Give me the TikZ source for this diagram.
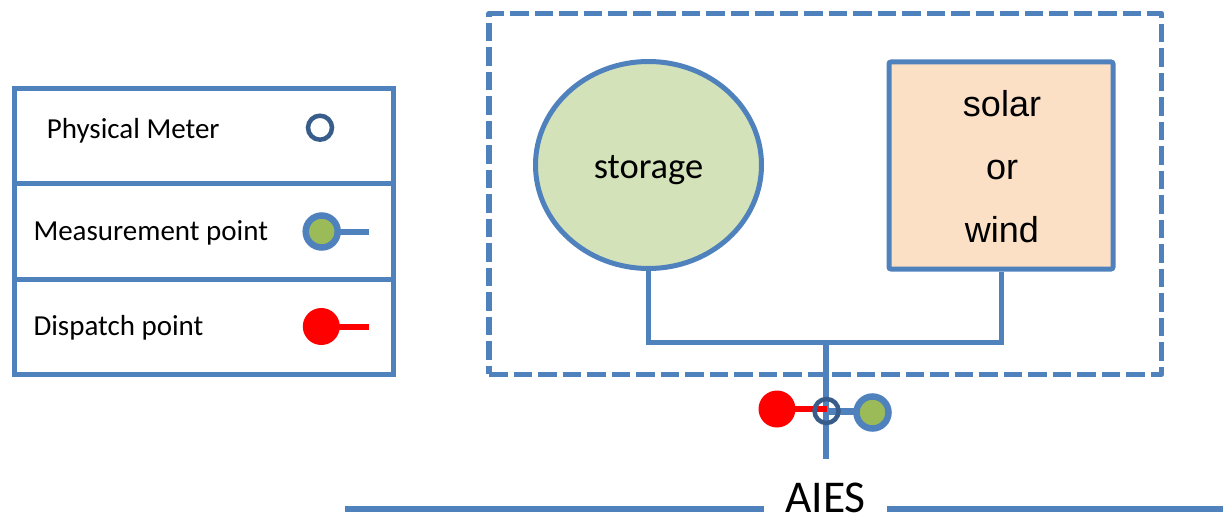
\documentclass[tikz,border=0pt]{standalone}
\usepackage{fontspec}
\newfontfamily\calfont{Carlito}
\newfontfamily\arifont{Liberation Sans}
\usetikzlibrary{shapes.geometric,backgrounds,calc}

\definecolor{aiesblue}{HTML}{4F81BD}
\definecolor{meterblue}{HTML}{385D8A}
\definecolor{storagegreen}{HTML}{D4E2B9}
\definecolor{solarorange}{HTML}{FBE0C6}
\definecolor{measgreen}{HTML}{9BBB59}

\tikzset{
  blueline/.style={draw=aiesblue, line width=5pt},
  redline/.style={draw=red, line width=5.5pt},
  linkline/.style={draw=aiesblue, line width=7pt},
  legendtext/.style={anchor=base west, inner sep=0pt, font=\calfont\fontsize{29}{34}\selectfont},
  meterring/.style={circle, draw=meterblue, line width=4.5pt, minimum size=24pt, inner sep=0pt},
  measdot/.style={circle, draw=aiesblue, fill=measgreen, line width=6.5pt, minimum size=32pt, inner sep=0pt},
  dispdot/.style={circle, fill=red, minimum size=37pt, inner sep=0pt},
}

\begin{document}
\begin{tikzpicture}[x=1pt, y=-1pt]
\useasboundingbox (0,0) rectangle (1223,519);

% ---- legend ----
\node[draw=aiesblue, line width=5pt, minimum width=379pt, minimum height=286pt, inner sep=0pt] (legend) at (203.5,231) {};
\draw[blueline] (legend.west |- 0,183.5) -- (legend.east |- 0,183.5);
\draw[blueline] (legend.west |- 0,279) -- (legend.east |- 0,279);

\node[legendtext] (tphys) at (46.7,138.3) {Physical Meter};
\node[legendtext] (tmeas) at (33.3,240) {Measurement point};
\node[legendtext] (tdisp) at (33.3,335.3) {Dispatch point};

\coordinate (lmeasend) at (369.3,231.5);
\coordinate (ldispend) at (369.3,326.5);
\node[meterring] (lphys) at (320,127.7) {};
\node[measdot] (lmeas) at (321.7,231.5) {};
\node[dispdot] (ldisp) at (321.3,326.5) {};

% ---- site boundary ----
\node[draw=aiesblue, line width=5.5pt, dash pattern=on 18.5pt off 6pt, line join=round,
      minimum width=672.5pt, minimum height=360.8pt, inner sep=0pt] (site) at (825.25,193.9) {};

% ---- resources ----
\node[ellipse, draw=aiesblue, fill=storagegreen, line width=5pt,
      minimum width=226pt, minimum height=207pt, inner sep=0pt] (storage) at (648.5,165) {};
\node[anchor=base, inner sep=0pt, font=\calfont\fontsize{36.5}{40}\selectfont] (tstorage) at (648.5,178) {storage};

\node[draw=aiesblue, fill=solarorange, line width=5pt, rounded corners=2pt,
      minimum width=224pt, minimum height=207pt, inner sep=0pt] (solar) at (1001,165.5) {};
\node[anchor=base, inner sep=0pt, font=\arifont\fontsize{36}{40}\selectfont] (tsolar) at (1002,116.7) {solar};
\node[anchor=base, inner sep=0pt, font=\arifont\fontsize{36}{40}\selectfont] (tor) at (1002,179.3) {or};
\node[anchor=base, inner sep=0pt, font=\arifont\fontsize{36}{40}\selectfont] (twind) at (1002,242) {wind};

% ---- collection bus and point of connection ----
\coordinate (busmid) at (826,342.7);
\coordinate (tap) at (826,459);
\node[dispdot] (disp) at (777,409) {};
\node[meterring] (meter) at (826.5,411) {};
\node[measdot] (meas) at (872.5,412.5) {};

% ---- grid ----
\node[anchor=base, inner xsep=21pt, inner ysep=0pt, font=\calfont\fontsize{45.5}{50}\selectfont] (aies) at (825.5,512.5) {AIES};
\coordinate (gridleft) at (345,509);
\coordinate (gridright) at (1223,509);

\begin{pgfonlayer}{background}
  \draw[blueline, line cap=butt] (storage.south) |- (busmid) -| (solar.south);
  \draw[draw=aiesblue, line width=6pt] (busmid) -- (tap);
  \draw[linkline] (meter.center) -- (meter.center -| meas.center);
  \draw[redline] (disp.center) -- (disp.center -| meter.center);
  \draw[draw=aiesblue, line width=6pt] (lmeas.center) -- (lmeasend);
  \draw[draw=red, line width=6pt] (ldisp.center) -- (ldispend);
  \draw[draw=aiesblue, line width=6pt] (gridleft) -- (gridleft -| aies.west);
  \draw[draw=aiesblue, line width=6pt] (aies.east |- gridright) -- (gridright);
\end{pgfonlayer}
\end{tikzpicture}
\end{document}
